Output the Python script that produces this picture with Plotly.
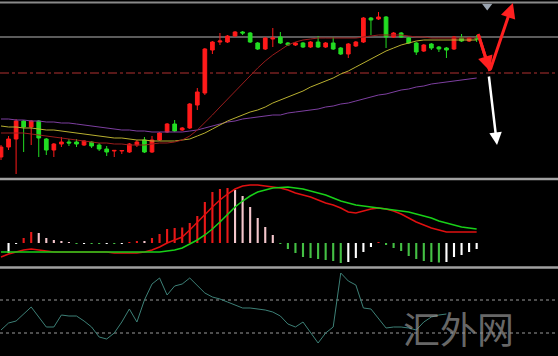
import plotly.graph_objects as go

# ---------------- data ----------------
idx = list(range(64))

opens = [23, 33, 41, 59, 53, 59, 41, 30, 36, 38, 38, 35, 38, 35, 31, 29, 29, 28, 35, 40,
         28, 40, 48, 56, 50, 52, 75, 87, 130, 138, 138, 144, 148, 147, 137, 131, 141, 143, 137, 135,
         137, 133, 138, 133, 137, 132, 126, 134, 138, 162, 161, 163, 143, 147, 142, 137, 129, 136, 133, 132,
         131, 142, 139, 141.5]
highs = [35, 44, 61, 60, 60, 60, 42, 37, 43, 41, 41, 40, 39, 37, 34, 30, 30, 37, 40, 43,
         44, 48, 57, 60, 53, 77, 92, 132, 139, 147, 145, 149, 149, 148, 138, 143, 152, 148, 138, 138,
         138, 139, 144, 138, 143, 133, 137, 139, 163, 163, 168, 164, 148, 148, 143, 138, 136, 137, 134, 133,
         144, 146, 143, 145]
lows = [20, 30, 6, 28, 35, 23, 25, 23, 33, 34, 33, 34, 32, 29, 24, 23, 26, 27, 33, 27,
        27, 39, 47, 48, 49, 51, 70, 85, 126, 135, 137, 143, 145, 137, 130, 130, 133, 136, 134, 134,
        132, 132, 132, 132, 130, 125, 122, 133, 137, 145, 160, 132, 142, 142, 136, 125, 128, 130, 128, 122,
        130, 138, 138, 138]
closes = [33, 41, 59, 53, 59, 42, 30, 36, 38, 37, 36, 39, 34, 31, 28, 29.6, 29.5, 36, 38, 28,
          40, 47, 56, 49, 52, 76, 88, 131, 138, 139, 144, 148, 147, 138, 131, 142, 142, 137, 135, 137,
          133, 138, 133, 137, 131, 126, 136, 138, 162, 160, 163, 143, 147, 143, 137, 128, 135, 132, 131, 130,
          143, 139, 142, 141]

ma_fast = [47, 47, 47, 47, 46, 45, 44, 43, 42, 41, 40, 39, 38, 37, 37, 36, 36, 35, 35, 35,
           36, 37, 37, 38, 40, 44, 50, 57, 65, 73, 81, 89, 97, 105, 112, 119, 125, 130, 135, 138,
           140, 141, 142, 142, 142, 142, 142, 142, 143, 144, 145, 145, 145, 145, 144, 143, 143, 142, 142, 142,
           142, 142, 142, 142]
ma_mid = [54, 53, 53, 52, 52, 51, 50, 50, 49, 48, 47, 46, 45, 44, 43, 42, 42, 41, 40, 40,
          39, 39, 39, 39, 40, 41, 44, 47, 51, 55, 59, 62, 65, 68, 70, 73, 77, 80, 83, 86,
          89, 93, 96, 99, 102, 106, 109, 113, 117, 121, 125, 129, 132, 135, 137, 139, 140, 140, 140, 140,
          140, 140, 140, 140]
ma_slow = [61, 61, 60, 60, 59, 59, 58, 58, 57, 57, 56, 55, 54, 53, 52, 51, 50, 50, 49, 49,
           48, 48, 48, 48, 48, 49, 50, 52, 54, 56, 58, 59, 61, 62, 63, 64, 65, 65, 67, 68,
           69, 70, 71, 73, 74, 76, 77, 79, 81, 83, 85, 86, 88, 90, 91, 93, 94, 96, 97, 98,
           99, 100, 101, 102]

level_resist = 143
level_support = 107

macd_hist = [None, -10, -0.5, 5, 11, 10, 5, 3, 1.5, 0.8, -0.6, -0.4, -0.9, -1, -0.8, -0.9, -0.7, 0.8, 1.5, 1.2,
             5, 9, 14, 15, 15.5, 20, 27, 41, 51, 54, 55, 53, 47, 36, 25, 16, 8, -1, -6, -10,
             -14, -15, -16, -17, -18, -20, -19, -15, -9, -4, 0.5, -2, -5, -8, -13, -16, -18, -19, -19.5, -19,
             -14, -12, -9, -6]
macd_line = [-14, -11, -9, -7, -6, -7, -8, -9, -9, -9, -9, -9, -9, -9, -9, -10, -10, -10, -10, -9,
             -7, -4, 0, 3, 6, 13, 21, 29, 36, 43, 49, 54, 57, 58, 58, 57, 56, 55, 53, 50,
             48, 46, 43, 40, 38, 35, 31, 30, 32, 34, 35, 34, 32, 29, 25, 21, 18, 15, 13, 11,
             11, 11, 11, 11]
signal_line = [-9, -9, -9, -9, -9, -9, -9, -9, -9, -9, -9, -9, -9, -9, -9, -9, -9, -9, -9, -9,
               -9, -9, -8, -7, -5, -1, 3, 8, 14, 21, 29, 36, 42, 47, 51, 53, 55, 55.5, 56, 55,
               54, 52, 50, 48, 45, 42, 40, 38, 37, 36, 35, 34, 33, 32, 31, 29, 27, 25, 22, 20,
               18, 16, 15, 14]

osc = [26, 33, 35, 42, 49, 39, 29, 29, 41, 40, 40, 35, 29, 19, 17, 23, 34, 47, 34, 56,
       72, 78, 61, 70, 72, 78, 70, 63, 59, 57, 54, 51, 48, 48, 47, 46, 44, 40, 32, 29,
       34, 23, 13, 23, 29, 83, 75, 71, 48, 47, 38, 28, 29, 29, 28, 26, 34, 39, 41, 42]
osc_levels = [56, 23]

red_path_x = [63.2, 64.75, 67.8]
red_path_y = [146, 109, 177]
white_arrow_x = [64.6, 65.7]
white_arrow_y = [105, 35]
marker_x = [64.4]
marker_y = [174]

# ---------------- colours ----------------
BG = "#000000"
UP = "#ff1a1a"
DOWN = "#22dd22"

hist_colors = []
prev = None
for h in macd_hist:
    if h is None:
        hist_colors.append("rgba(0,0,0,0)")
    elif h >= 0:
        hist_colors.append("#e81818" if (prev is None or h >= prev) else "#f4c6cc")
    else:
        hist_colors.append("#44c044" if (prev is not None and h < prev) else "#ffffff")
    if h is not None:
        prev = h

fig = go.Figure()

fig.add_trace(go.Candlestick(
    x=idx, open=opens, high=highs, low=lows, close=closes,
    increasing=dict(line=dict(color=UP, width=1), fillcolor=UP),
    decreasing=dict(line=dict(color=DOWN, width=1), fillcolor=DOWN),
    whiskerwidth=0, xaxis="x", yaxis="y", hoverinfo="skip"))

fig.add_trace(go.Scatter(x=idx, y=ma_slow, mode="lines", line=dict(color="#7d3fa0", width=1), yaxis="y"))
fig.add_trace(go.Scatter(x=idx, y=ma_mid, mode="lines", line=dict(color="#b9b030", width=1), yaxis="y"))
fig.add_trace(go.Scatter(x=idx, y=ma_fast, mode="lines", line=dict(color="#9a1c1c", width=1), yaxis="y"))

fig.add_trace(go.Scatter(x=marker_x, y=marker_y, mode="markers",
                         marker=dict(symbol="triangle-down", size=9, color="#9aa4b0"), yaxis="y"))

# MACD
fig.add_trace(go.Bar(x=idx, y=macd_hist, marker=dict(color=hist_colors, line=dict(width=0)),
                     width=0.28, yaxis="y2"))
fig.add_trace(go.Scatter(x=idx, y=macd_line, mode="lines", line=dict(color="#e01010", width=1.5), yaxis="y2"))
fig.add_trace(go.Scatter(x=idx, y=signal_line, mode="lines", line=dict(color="#18d018", width=1.5), yaxis="y2"))

# Oscillator
fig.add_trace(go.Scatter(x=idx[:len(osc)], y=osc, mode="lines", line=dict(color="#3d8077", width=1), yaxis="y3"))

# first leg of red V
fig.add_trace(go.Scatter(x=red_path_x[:2], y=red_path_y[:2], mode="lines",
                         line=dict(color="#ff2020", width=3), yaxis="y"))

def pf(pix):
    return 1 - pix / 356.0

shapes = [
    dict(type="line", xref="paper", yref="paper", x0=0, x1=1, y0=pf(2.5), y1=pf(2.5),
         line=dict(color="#8a8a8a", width=2)),
    dict(type="line", xref="paper", yref="paper", x0=0, x1=1, y0=pf(179), y1=pf(179),
         line=dict(color="#a0a0a0", width=2.5)),
    dict(type="line", xref="paper", yref="paper", x0=0, x1=1, y0=pf(267.5), y1=pf(267.5),
         line=dict(color="#a0a0a0", width=2.5)),
    dict(type="line", xref="paper", yref="y", x0=0, x1=1, y0=level_resist, y1=level_resist,
         line=dict(color="#7a7a7a", width=1.5), layer="below"),
    dict(type="line", xref="paper", yref="y", x0=0, x1=1, y0=level_support, y1=level_support,
         line=dict(color="#b03030", width=1, dash="dashdot"), layer="below"),
]
for lv in osc_levels:
    shapes.append(dict(type="line", xref="paper", yref="y3", x0=0, x1=1, y0=lv, y1=lv,
                       line=dict(color="#9a9a9a", width=1, dash="dot"), layer="below"))

annotations = [
    dict(x=red_path_x[1], y=red_path_y[1], ax=red_path_x[0], ay=red_path_y[0],
         xref="x", yref="y", axref="x", ayref="y", showarrow=True, arrowhead=2,
         arrowsize=1, arrowwidth=3, arrowcolor="#ff2020", text=""),
    dict(x=red_path_x[2], y=red_path_y[2], ax=red_path_x[1], ay=red_path_y[1],
         xref="x", yref="y", axref="x", ayref="y", showarrow=True, arrowhead=2,
         arrowsize=1, arrowwidth=3, arrowcolor="#ff2020", text=""),
    dict(x=white_arrow_x[1], y=white_arrow_y[1], ax=white_arrow_x[0], ay=white_arrow_y[0],
         xref="x", yref="y", axref="x", ayref="y", showarrow=True, arrowhead=2,
         arrowsize=1, arrowwidth=2.5, arrowcolor="#ffffff", text=""),
    dict(x=458 / 558, y=pf(328), xref="paper", yref="paper", text="汇外网", showarrow=False,
         font=dict(family="Noto Sans CJK SC", size=37, color="rgba(150,150,150,0.7)"),
         xanchor="center", yanchor="middle"),
]

fig.update_layout(
    width=558, height=356, margin=dict(l=0, r=0, t=0, b=0),
    paper_bgcolor=BG, plot_bgcolor=BG, showlegend=False,
    shapes=shapes, annotations=annotations,
    xaxis=dict(range=[-0.1325, 73.775], domain=[0, 1], showgrid=False, zeroline=False,
               showticklabels=False, rangeslider=dict(visible=False), fixedrange=True),
    yaxis=dict(range=[2, 177], domain=[pf(178), pf(3)], showgrid=False, zeroline=False,
               showticklabels=False, fixedrange=True),
    yaxis2=dict(range=[-24, 63], domain=[pf(267), pf(180)], showgrid=False, zeroline=False,
                showticklabels=False, fixedrange=True),
    yaxis3=dict(range=[0, 88], domain=[0, pf(268)], showgrid=False, zeroline=False,
                showticklabels=False, fixedrange=True),
    hovermode=False,
)

fig.write_html("out.html", config={"displayModeBar": False},
               post_script="document.body.style.margin='0';document.body.style.background='#000';")
